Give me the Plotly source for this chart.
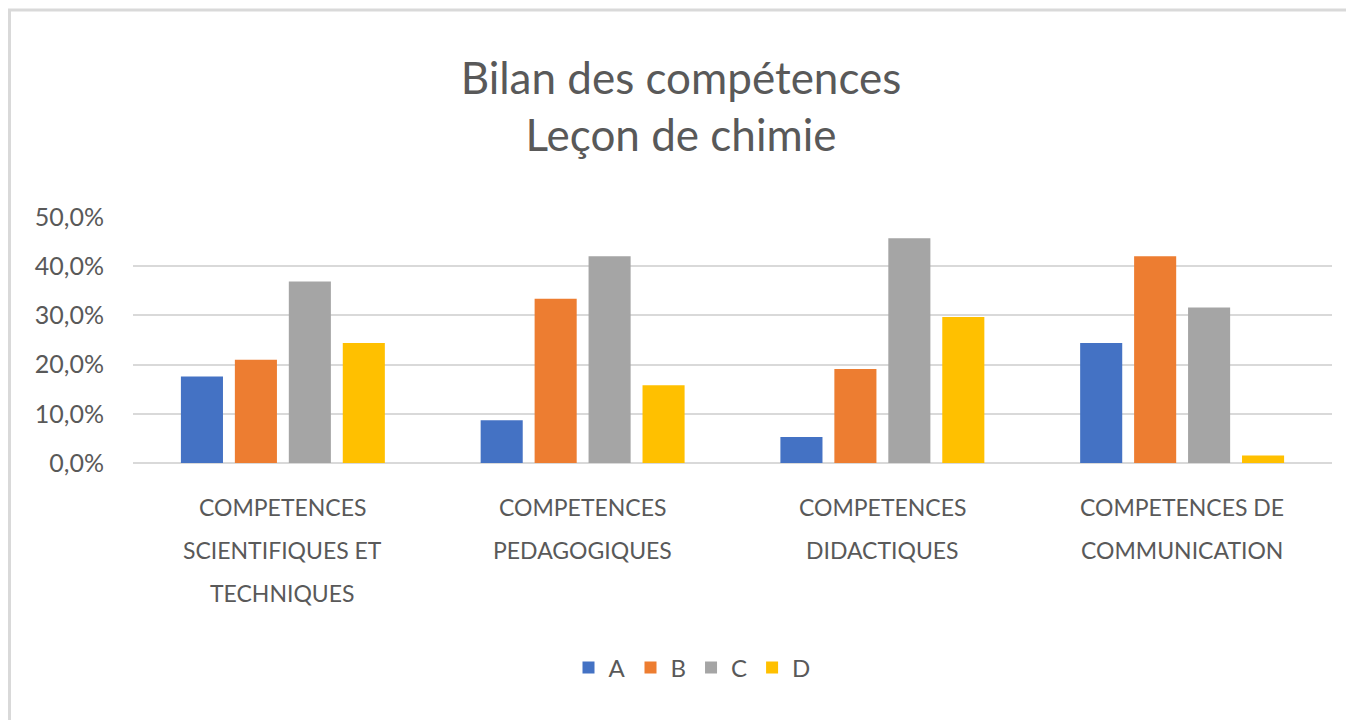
import plotly.graph_objects as go

# données
categories = [
    "COMPETENCES<br>SCIENTIFIQUES ET<br>TECHNIQUES",
    "COMPETENCES<br>PEDAGOGIQUES",
    "COMPETENCES<br>DIDACTIQUES",
    "COMPETENCES DE<br>COMMUNICATION",
]
series_names = ["A", "B", "C", "D"]
vals_A = [0.176, 0.087, 0.053, 0.244]
vals_B = [0.210, 0.334, 0.191, 0.420]
vals_C = [0.369, 0.420, 0.457, 0.316]
vals_D = [0.244, 0.158, 0.297, 0.015]
y_ticks = [0, 0.1, 0.2, 0.3, 0.4, 0.5]

colors = ["#4472C4", "#ED7D31", "#A5A5A5", "#FFC000"]
txt = "#595959"
grid = "#d9d9d9"
font = "Lato"

# la page ajoute une marge de 8 px : figure un peu plus petite
W, H = 1346, 712
L, R, T, B = 125, 22, 209, 257
pw, ph = W - L - R, H - T - B

fig = go.Figure()
for name, vals, col in zip(series_names, [vals_A, vals_B, vals_C, vals_D], colors):
    fig.add_trace(go.Bar(
        name=name,
        x=categories,
        y=vals,
        marker=dict(color=col, line=dict(width=0)),
    ))

# libellés de catégories, une annotation par ligne (interligne plus large)
for cat in categories:
    for k, line in enumerate(cat.split("<br>")):
        fig.add_annotation(
            x=cat, xref="x", y=0, yref="paper",
            text=line, showarrow=False,
            yanchor="middle", yshift=-(44 + 43 * k),
            font=dict(family=font, size=23, color=txt),
        )

# cadre gris clair autour du graphique
fig.add_shape(
    type="rect", xref="paper", yref="paper",
    x0=(1.5 - L) / pw, x1=(W + 20 - L) / pw,
    y0=(H - B - (H + 20)) / ph, y1=(H - B - 2) / ph,
    line=dict(color=grid, width=3), fillcolor="rgba(0,0,0,0)",
    layer="below",
)

fig.update_layout(
    width=W, height=H,
    margin=dict(l=L, r=R, t=T, b=B, autoexpand=False),
    paper_bgcolor="white", plot_bgcolor="white",
    barmode="group", bargap=0.28, bargroupgap=0.22,
    separators=", ",
    font=dict(family=font, color=txt),
    title=dict(
        text="Bilan des compétences<br>Leçon de chimie",
        x=0.5, xanchor="center", y=0.879, yanchor="middle",
        font=dict(family=font, size=44, color=txt),
    ),
    xaxis=dict(showticklabels=False, showgrid=False, zeroline=False,
               showline=False, ticks=""),
    yaxis=dict(
        range=[0, 0.5], tickvals=y_ticks, tickformat=".1%",
        showgrid=True, gridcolor=grid, gridwidth=2,
        zeroline=True, zerolinecolor=grid, zerolinewidth=2,
        showline=False, ticks="", ticklabelstandoff=28,
        tickfont=dict(family=font, size=25, color=txt),
    ),
    showlegend=True,
    legend=dict(
        orientation="h", x=(684 - L) / pw, xanchor="center",
        y=(H - B - 660) / ph, yanchor="middle",
        font=dict(family=font, size=24, color=txt),
        itemclick=False,
    ),
)

fig.write_html("out.html")
